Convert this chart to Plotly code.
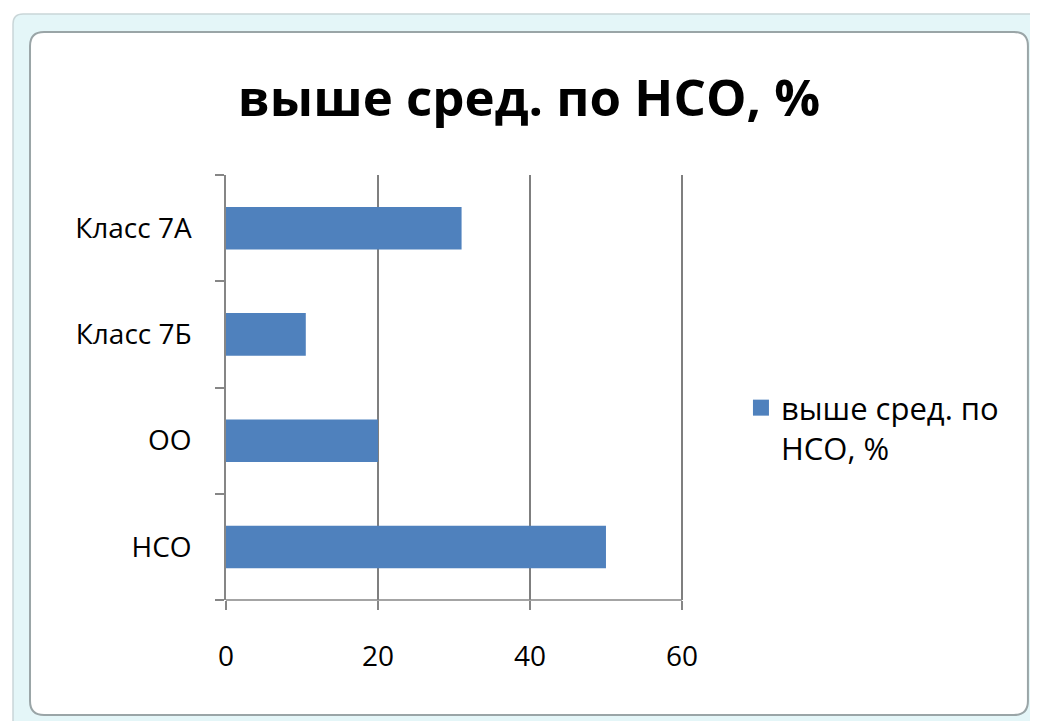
import plotly.graph_objects as go

categories = ["Класс 7А", "Класс 7Б", "ОО", "НСО"]
values = [31, 10.5, 20, 50]
series_name = "выше сред. по<br>НСО, %"
title_text = "выше сред. по НСО, %"
x_ticks = [0, 20, 40, 60]
x_max = 60.4  # a little past 60 so the 60 gridline is not clipped at the plot edge

# the page body has an 8px default margin, so the figure is drawn 8px in from the window edge
OFF = 8
W, H = 1038 - OFF, 721 - OFF
L, T, B = 226 - OFF, 175 - OFF, 600 - OFF
R = L + (682 - 226) * x_max / 60
BAR_COLOR = "#4F81BD"


def px(x):
    return (x - OFF - L) / (R - L)


def py(y):
    return (B - (y - OFF)) / (B - T)


fig = go.Figure()
fig.add_trace(go.Bar(
    y=categories[::-1], x=values[::-1], orientation="h",
    name=series_name, marker=dict(color=BAR_COLOR, line=dict(width=0)),
    showlegend=False,
))
# legend entry with a larger square swatch, like the original
fig.add_trace(go.Scatter(
    x=[None], y=[None], mode="markers", name=series_name,
    marker=dict(symbol="square", size=17, color=BAR_COLOR),
    showlegend=True, hoverinfo="skip",
))


def rounded(x0, y0, x1, y1, r):
    return (f"M {px(x0+r)},{py(y0)} L {px(x1-r)},{py(y0)} Q {px(x1)},{py(y0)} {px(x1)},{py(y0+r)} "
            f"L {px(x1)},{py(y1-r)} Q {px(x1)},{py(y1)} {px(x1-r)},{py(y1)} "
            f"L {px(x0+r)},{py(y1)} Q {px(x0)},{py(y1)} {px(x0)},{py(y1-r)} "
            f"L {px(x0)},{py(y0+r)} Q {px(x0)},{py(y0)} {px(x0+r)},{py(y0)} Z")


shapes = [
    dict(type="path", xref="paper", yref="paper", layer="below",
         path=rounded(13, 14, 1045, 735, 10),
         fillcolor="#E4F6F8", line=dict(color="#C9D6D8", width=1.5)),
    dict(type="path", xref="paper", yref="paper", layer="below",
         path=rounded(30, 32, 1028, 715, 14),
         fillcolor="#FFFFFF", line=dict(color="#9AA5A7", width=2)),
]

fig.update_layout(
    width=W, height=H,
    margin=dict(l=L, r=W - R, t=T, b=H - B, autoexpand=False),
    paper_bgcolor="#FFFFFF", plot_bgcolor="rgba(0,0,0,0)",
    title=dict(text=title_text, x=(529 - OFF) / W, xanchor="center",
               y=1 - (98 - OFF) / H, yanchor="middle",
               font=dict(family="Open Sans", size=51, color="#000000", weight="bold")),
    font=dict(family="Open Sans", color="#000000"),
    bargap=0.6,
    showlegend=True,
    legend=dict(x=px(741), xanchor="left", y=py(428), yanchor="middle", valign="top",
                font=dict(size=31, family="Open Sans", color="#000000"),
                bgcolor="rgba(0,0,0,0)", itemwidth=30),
    shapes=shapes,
    xaxis=dict(range=[0, x_max], tickvals=x_ticks, showgrid=True, gridcolor="#7F7F7F", gridwidth=1.5,
               showline=False, zeroline=False,
               ticks="outside", ticklen=9, tickcolor="#868686", tickwidth=1.5,
               ticklabelstandoff=22, tickfont=dict(size=28, color="#000000")),
    yaxis=dict(type="category", categoryorder="array", categoryarray=categories[::-1],
               showline=True, linecolor="#868686", linewidth=1.5, showgrid=False,
               ticks="outside", ticklen=9, tickcolor="#868686", tickwidth=1.5,
               tickson="boundaries", ticklabelstandoff=27,
               tickfont=dict(size=28, color="#000000")),
)
# x axis line from 0 to 60, as in the original
fig.add_shape(type="line", xref="x", yref="paper", x0=x_ticks[0], x1=x_ticks[-1], y0=0, y1=0,
              line=dict(color="#868686", width=1.5), layer="above")

fig.write_html("out.html")
